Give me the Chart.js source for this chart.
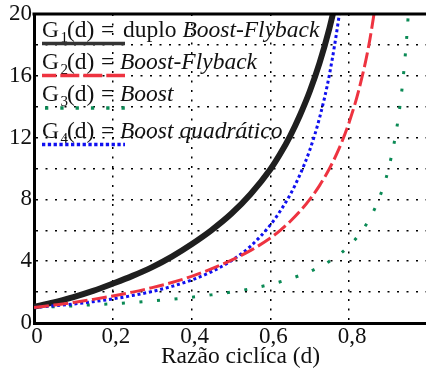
<!DOCTYPE html>
<html>
<head>
<meta charset="utf-8">
<script src="https://cdn.jsdelivr.net/npm/chart.js@4"></script>
<style>
  html, body { margin: 0; padding: 0; background: #fff; overflow: hidden; }
  canvas { display: block; }
</style>
</head>
<body>
<canvas id="myChart" width="436" height="371"></canvas>
<script>
// duty cycle (x) and the four gains
const duty = [0, 0.05, 0.1, 0.15, 0.2, 0.25, 0.3, 0.35, 0.4, 0.45, 0.5, 0.55, 0.6,
  0.625, 0.65, 0.675, 0.7, 0.725, 0.75, 0.775, 0.8, 0.825, 0.85, 0.875, 0.9, 0.925, 0.94, 0.95, 0.96];
const g1 = [1.05, 1.33, 1.68, 2.08, 2.55, 3.05, 3.62, 4.3, 5.1, 6.0, 7.05, 8.35, 9.95,
  10.95, 12.1, 13.45, 15.0, 16.85, 19.1, 21.8, null, null, null, null, null, null, null, null, null];
const g2 = [1.0, 1.16, 1.33, 1.53, 1.75, 2.0, 2.29, 2.62, 3.02, 3.5, 4.05, 4.7, 5.5,
  6.0, 6.57, 7.23, 8.0, 8.91, 10.0, 11.33, 13.0, 15.14, 18.0, 22.0, null, null, null, null, null];
const g3 = [1.0, 1.05, 1.11, 1.18, 1.25, 1.33, 1.43, 1.54, 1.67, 1.82, 2.0, 2.22, 2.5,
  2.67, 2.86, 3.08, 3.33, 3.64, 4.0, 4.44, 5.0, 5.71, 6.67, 8.0, 10.0, 13.33, 16.67, 20.0, 25.0];
const g4 = [1.0, 1.11, 1.23, 1.38, 1.56, 1.78, 2.04, 2.37, 2.78, 3.31, 4.02, 4.98, 6.35,
  7.25, 8.3, 9.6, 11.2, 13.3, 16.1, 20.0, 25.0, null, null, null, null, null, null, null, null];

const xTicks = [0, 0.2, 0.4, 0.6, 0.8, 1];
const yLabelled = [0, 4, 8, 12, 16, 20];
const xTitle = "Razão ciclíca (d)";
const labelPrefix = ["duplo ", "", "", ""];
const labelItalic = ["Boost-Flyback", "Boost-Flyback", "Boost", "Boost quadrático"];

const serif = "Liberation Serif";
Chart.defaults.font.family = serif;
Chart.defaults.color = "#000";

function pts(vals) {
  return duty.map((d, i) => ({ x: d, y: vals[i] })).filter((p) => p.y !== null);
}

const legendPlugin = {
  id: "gLegend",
  afterDatasetsDraw(chart) {
    const ctx = chart.ctx;
    const base = [36.5, 68.5, 101, 137.5];
    ctx.save();
    ctx.fillStyle = "#111";
    ctx.textBaseline = "alphabetic";
    base.forEach((by, i) => {
      ctx.font = "23.5px " + serif;
      ctx.fillText("G", 42, by);
      ctx.font = "15px " + serif;
      ctx.fillText(String(i + 1), 60.5, by + 5);
      ctx.font = "23.5px " + serif;
      ctx.fillText("(d)", 67, by);
      ctx.fillText("=", 101, by);
      let x = 120;
      if (labelPrefix[i]) {
        ctx.fillText(labelPrefix[i], 123, by);
        x = 123 + ctx.measureText(labelPrefix[i]).width;
      }
      ctx.font = "italic 23.5px " + serif;
      ctx.fillText(labelItalic[i], x, by);

      // line sample under the text
      const ds = chart.data.datasets[i];
      const ly = by + 7;
      ctx.beginPath();
      ctx.strokeStyle = i === 0 ? "#333" : ds.borderColor;
      ctx.lineWidth = i === 0 ? 3.5 : 3.3;
      ctx.lineCap = "butt";
      if (i === 0) ctx.setLineDash([]);
      if (i === 1) { ctx.setLineDash([19, 4]); ctx.lineDashOffset = 4.7; }
      if (i === 2) { ctx.setLineDash([3.3, 12]); ctx.lineDashOffset = 0; }
      if (i === 3) { ctx.setLineDash([3.3, 2.5]); ctx.lineDashOffset = 0; }
      ctx.moveTo(i === 2 ? 45 : 42, ly);
      ctx.lineTo(125, ly);
      ctx.stroke();
    });
    ctx.restore();
  },
  afterDraw(chart) {
    const ctx = chart.ctx;
    const a = chart.chartArea;
    ctx.save();
    // top frame line
    ctx.beginPath();
    ctx.strokeStyle = "#000";
    ctx.lineWidth = 3;
    ctx.moveTo(a.left - 1.5, a.top);
    ctx.lineTo(a.right, a.top);
    ctx.stroke();
    // x axis title
    ctx.fillStyle = "#111";
    ctx.font = "23.5px " + serif;
    ctx.textAlign = "center";
    ctx.textBaseline = "alphabetic";
    ctx.fillText(xTitle, (a.left + a.right) / 2 + 9.5, a.bottom + 40);
    ctx.restore();
  }
};

var ctx = document.getElementById("myChart").getContext("2d");
var chart = new Chart(ctx, {
  type: "line",
  data: {
    datasets: [
      {
        label: "G1",
        data: pts(g1),
        borderColor: "#1f1f1f",
        borderWidth: 6,
        order: 3
      },
      {
        label: "G2",
        data: pts(g2),
        borderColor: "#ee3340",
        borderWidth: 3,
        borderDash: [15, 4.5],
        order: 0
      },
      {
        label: "G3",
        data: pts(g3),
        borderColor: "#0b8a55",
        borderWidth: 3,
        borderDash: [3, 14.6],
        order: 2
      },
      {
        label: "G4",
        data: pts(g4),
        borderColor: "#1010f0",
        borderWidth: 3,
        borderDash: [3, 2.8],
        order: 1
      }
    ]
  },
  options: {
    responsive: false,
    animation: false,
    devicePixelRatio: 1,
    layout: { padding: { top: 14, right: 8, bottom: 0, left: 0 } },
    elements: {
      point: { radius: 0 },
      line: { cubicInterpolationMode: "monotone", borderCapStyle: "butt", fill: false }
    },
    scales: {
      x: {
        type: "linear",
        min: 0,
        max: 1,
        afterFit: (s) => { s.height = 48; },
        afterBuildTicks: (s) => { s.ticks = xTicks.map((v) => ({ value: v })); },
        grid: { color: "#000", lineWidth: 1.5, drawTicks: false },
        border: { display: true, color: "#000", width: 3, dash: [2, 7.5] },
        ticks: {
          color: "#111",
          font: { size: 23, lineHeight: 1 },
          padding: 2,
          labelOffset: 3,
          maxRotation: 0,
          autoSkip: false,
          callback: (v) => String(Math.round(v * 10) / 10).replace(".", ",")
        }
      },
      y: {
        min: 0,
        max: 20,
        afterFit: (s) => { s.width = 34; },
        grid: { color: "#000", lineWidth: 1.5, drawTicks: false },
        border: { display: true, color: "#000", width: 3, dash: [2, 7.5] },
        ticks: {
          stepSize: 2,
          color: "#111",
          font: { size: 23, lineHeight: 1 },
          padding: 2,
          autoSkip: false,
          callback: (v) => (yLabelled.includes(v) ? String(v) : "")
        }
      }
    },
    plugins: {
      legend: { display: false },
      tooltip: { enabled: false }
    }
  },
  plugins: [legendPlugin]
});
</script>
</body>
</html>
